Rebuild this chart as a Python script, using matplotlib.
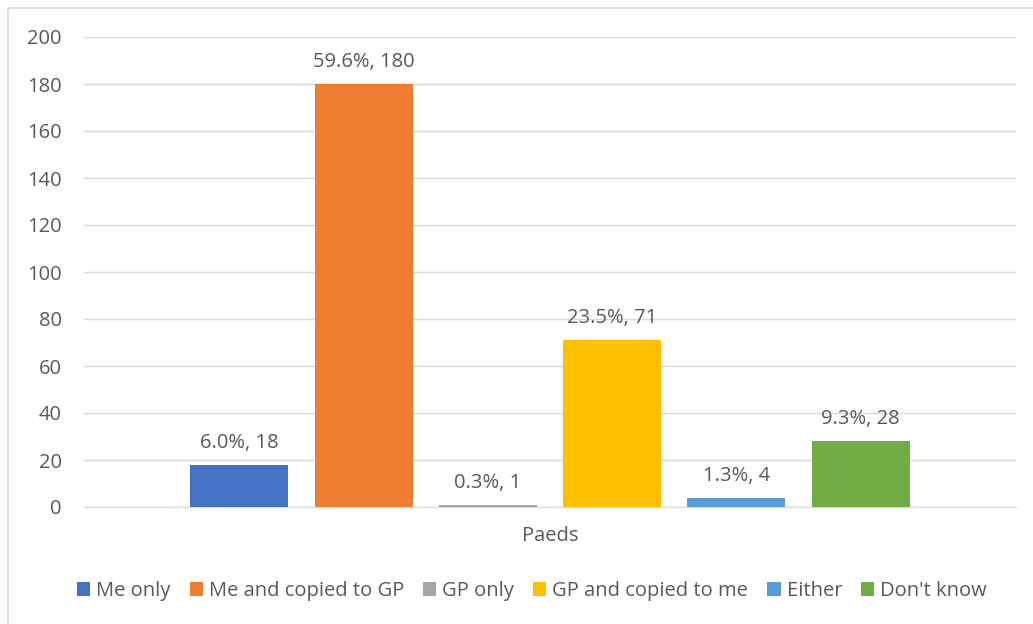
import matplotlib.pyplot as plt
from matplotlib.patches import Rectangle
import numpy as np

categories = ['Me only', 'Me and copied to GP', 'GP only',
              'GP and copied to me', 'Either', "Don't know"]
counts = [18, 180, 1, 71, 4, 28]
percents = [6.0, 59.6, 0.3, 23.5, 1.3, 9.3]
colors = ['#4472C4', '#ED7D31', '#A5A5A5', '#FFC000', '#5B9BD5', '#70AD47']
group_label = 'Paeds'
yticks = [0, 20, 40, 60, 80, 100, 120, 140, 160, 180, 200]

plt.rcParams['font.family'] = ['Open Sans', 'DejaVu Sans']
txt = '#595959'

fig = plt.figure(figsize=(10.33, 6.24), dpi=100)
fig.patch.set_facecolor('white')
# outer chart border (clipped at right/bottom like the screenshot)
fig.patches.append(Rectangle((8 / 1033, -0.1), 1.2, 1 - 8 / 624 + 0.1,
                             transform=fig.transFigure, fill=False,
                             edgecolor='#D9D9D9', linewidth=1.2))

ax = fig.add_axes([84 / 1033, 1 - 507 / 624, 932 / 1033, 470 / 624])

x = np.arange(len(categories))
for i, (c, p, col) in enumerate(zip(counts, percents, colors)):
    ax.bar(x[i], c, width=0.79, color=col, label=categories[i], zorder=3)
    ax.text(x[i], c + 5, f'{p:.1f}%, {c}', ha='center', va='bottom',
            fontsize=14.5, color=txt)

ax.set_ylim(0, 200)
ax.set_xlim(-1.25, 6.25)
ax.set_yticks(yticks)
ax.tick_params(axis='y', length=0, labelsize=14.5, labelcolor=txt, pad=16)
ax.set_xticks([2.5])
ax.set_xticklabels([group_label], fontsize=14.5, color=txt)
ax.tick_params(axis='x', length=0, pad=14)
ax.yaxis.grid(True, color='#D9D9D9', linewidth=1)
ax.set_axisbelow(True)
for s in ['top', 'right', 'left']:
    ax.spines[s].set_visible(False)
ax.spines['bottom'].set_color('#D9D9D9')

leg = fig.legend(loc='center', bbox_to_anchor=(532 / 1033, 1 - 591 / 624),
                 ncol=6, frameon=False, fontsize=14.5, handlelength=0.65,
                 handleheight=0.65, handletextpad=0.3, columnspacing=0.95)
for t in leg.get_texts():
    t.set_color(txt)

fig.savefig('out.png', dpi=100)
